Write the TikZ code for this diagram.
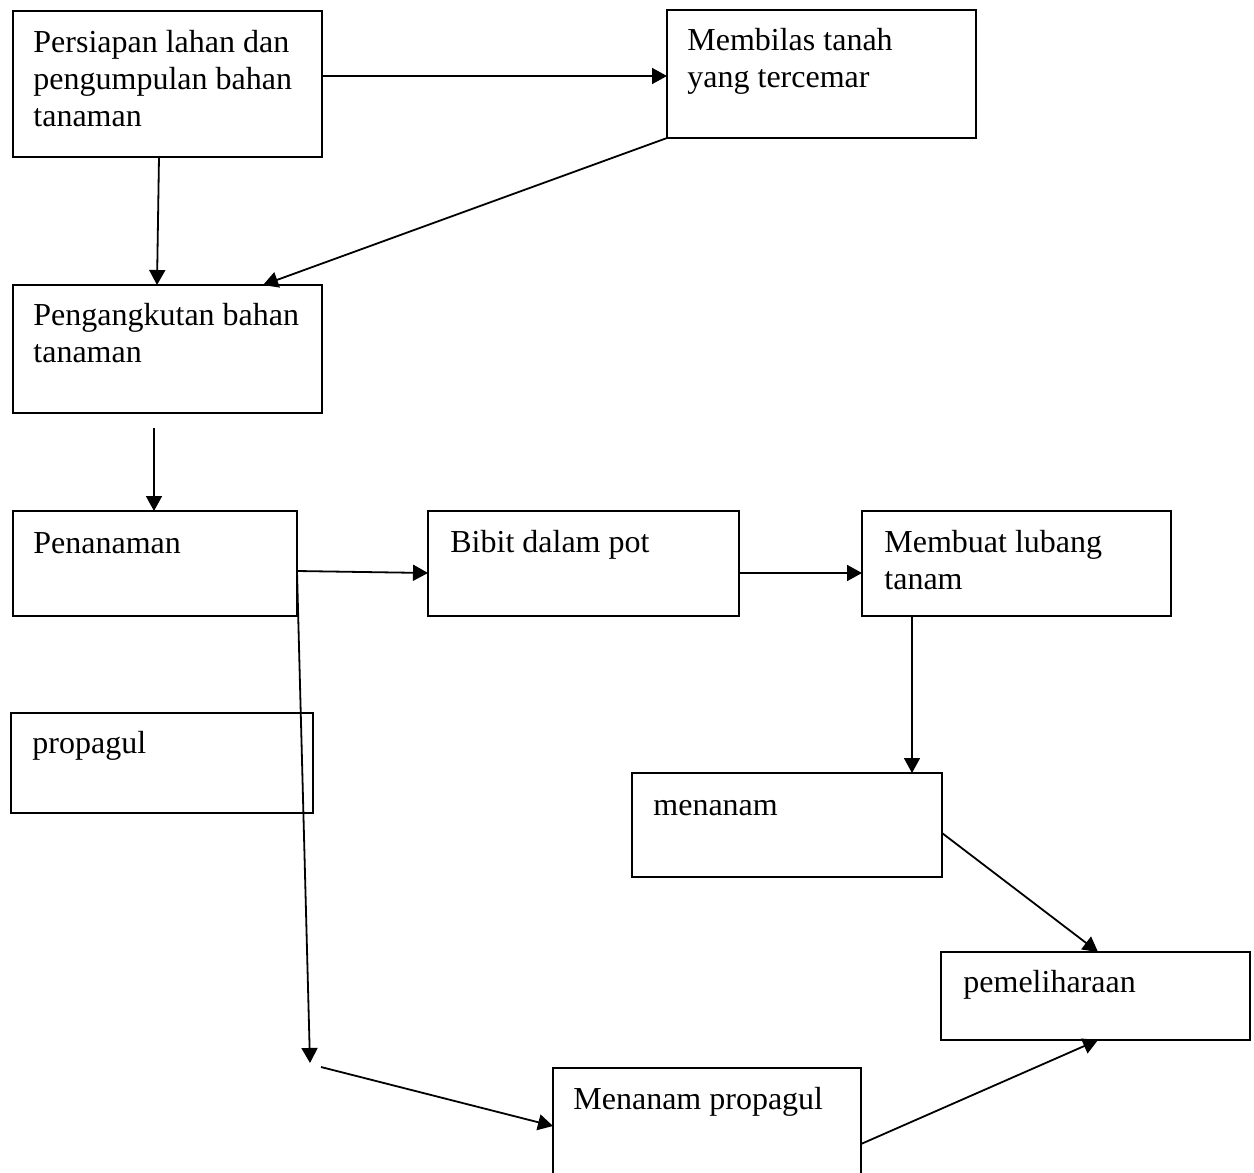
\documentclass[tikz,border=0pt]{standalone}
\usepackage{fontspec}
\setmainfont{Liberation Serif}
\usetikzlibrary{arrows.meta}
\begin{document}
\begin{tikzpicture}[x=0.5pt,y=-0.5pt,
  box/.style={draw, line width=1.1pt, inner sep=0pt, outer sep=0pt, anchor=north west},
  txt/.style={anchor=north west, inner sep=0pt, align=left, font=\fontsize{16}{18.5}\selectfont},
  conn/.style={line width=0.9pt, -{Triangle[length=7.5pt,width=8pt]}},
  plain/.style={line width=0.9pt}]
\useasboundingbox (0,0) rectangle (1254,1173);
\clip (0,0) rectangle (1254,1173);
% boxes
\node[box, minimum width=154.5pt, minimum height=73pt] (b1) at (13,11) {};
\node[box, minimum width=154.5pt, minimum height=64pt] (b2) at (667,10) {};
\node[box, minimum width=154.5pt, minimum height=64pt] (b3) at (13,285) {};
\node[box, minimum width=142pt, minimum height=52.5pt] (b4) at (13,511) {};
\node[box, minimum width=155.5pt, minimum height=52.5pt] (b5) at (428,511) {};
\node[box, minimum width=154.5pt, minimum height=52.5pt] (b6) at (862,511) {};
\node[box, minimum width=151pt, minimum height=50pt] (b7) at (11,713) {};
\node[box, minimum width=155pt, minimum height=52pt] (b8) at (632,773) {};
\node[box, minimum width=154.5pt, minimum height=44pt] (b9) at (941,952) {};
\node[box, minimum width=154pt, minimum height=65pt] (b10) at (553,1068) {};
% texts
\node[txt] (t1) at ([shift={(20,15)}]b1.north west) {\strut Persiapan lahan dan\\pengumpulan bahan\\tanaman};
\node[txt] (t2) at ([shift={(20,14)}]b2.north west) {\strut Membilas tanah\\yang tercemar};
\node[txt] (t3) at ([shift={(20,14)}]b3.north west) {\strut Pengangkutan bahan\\tanaman};
\node[txt] (t4) at ([shift={(20,16)}]b4.north west) {\strut Penanaman};
\node[txt] (t5) at ([shift={(22,15)}]b5.north west) {\strut Bibit dalam pot};
\node[txt] (t6) at ([shift={(22,15)}]b6.north west) {\strut Membuat lubang\\tanam};
\node[txt] (t7) at ([shift={(21,14)}]b7.north west) {\strut propagul};
\node[txt] (t8) at ([shift={(21,16)}]b8.north west) {\strut menanam};
\node[txt] (t9) at ([shift={(22,14)}]b9.north west) {\strut pemeliharaan};
\node[txt] (t10) at ([shift={(20,15)}]b10.north west) {\strut Menanam propagul};
% free ends
\coordinate (f1) at (154,428);
\coordinate (f2) at (310,1063);
\coordinate (f3) at (321,1067);
% connectors
\draw[conn] ([yshift=4pt]b1.east) -- ([yshift=-1pt]b2.west);
\draw[conn] ([xshift=-4.25pt]b1.south) -- ([xshift=-5.25pt]b3.north);
\draw[conn] (b2.south west) -- ([xshift=47.75pt]b3.north);
\draw[conn] (f1) -- ([xshift=-0.5pt]b4.north);
\draw[conn] ([yshift=-3.75pt]b4.east) -- ([yshift=-4.75pt]b5.west);
\draw[conn] ([yshift=-4.75pt]b5.east) -- ([yshift=-4.75pt]b6.west);
\draw[conn] ([xshift=-52.25pt]b6.south) -- ([xshift=62.5pt]b8.north);
\draw[conn] ([yshift=-4pt]b8.east) -- ([xshift=1.25pt]b9.north);
\draw[conn] ([yshift=-3.75pt]b4.east) -- (f2);
\draw[conn] (f3) -- ([yshift=3.5pt]b10.west);
\draw[conn] ([yshift=-5.5pt]b10.east) -- ([xshift=1.25pt]b9.south);
\end{tikzpicture}
\end{document}
